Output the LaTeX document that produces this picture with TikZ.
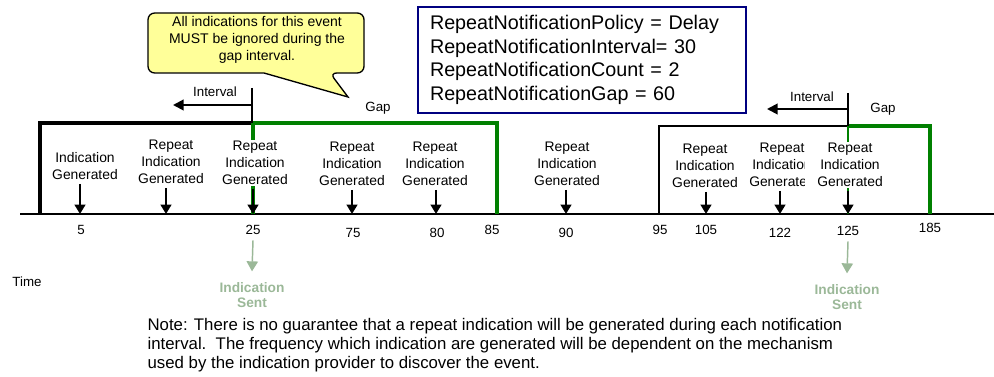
\documentclass[tikz,border=0pt]{standalone}
\usepackage{fontspec}
\setmainfont{Liberation Sans}
\usetikzlibrary{arrows.meta,positioning}

\definecolor{gapgreen}{RGB}{0,128,0}
\definecolor{boxnavy}{RGB}{0,0,128}
\definecolor{noteyellow}{RGB}{255,255,153}
\definecolor{sentgreen}{RGB}{155,184,152}

\tikzset{
  lbl/.style={align=center, font=\fontsize{10}{12.5}\selectfont, inner sep=1pt},
  genlbl/.style={lbl, fill=white, font=\fontsize{10.4}{12.6}\selectfont},
  genarrow/.style={-{Triangle[length=7pt,width=8pt]}, line width=1.5pt},
  ivarrow/.style={-{Triangle[length=8pt,width=8pt]}, line width=1.5pt},
  sentarrow/.style={-{Triangle[length=7.5pt,width=8.5pt]}, line width=1.1pt, draw=sentgreen},
  sentlbl/.style={lbl, text=sentgreen, font=\fontsize{10.3}{11.5}\selectfont\bfseries}
}

\begin{document}
\begin{tikzpicture}[x=0.75pt, y=-0.75pt]
\useasboundingbox (0,0) rectangle (994,377);

% Callout
\draw[fill=noteyellow, line width=1pt, rounded corners=5pt]
(148,13) -- (364,13) -- (364,73) -- (330,73) [sharp corners] -- (348,97)
-- (264,73) [rounded corners=5pt] -- (148,73) -- cycle;
\node[lbl, font=\fontsize{10.5}{12.8}\selectfont] (callout) at (257,40)
{All indications for this event\\MUST be ignored during the\\gap interval.};

% Policy box
\node[draw=boxnavy, line width=1.5pt, text width=228pt, inner xsep=9pt,
  minimum height=79.5pt, align=left, font=\fontsize{14.8}{17.6}\selectfont]
  (policy) at (582,60)
{RepeatNotificationPolicy = Delay\\RepeatNotificationInterval= 30\\
RepeatNotificationCount = 2\\RepeatNotificationGap = 60};

% Time line
\coordinate (tstart) at (20,214);
\coordinate (tend) at (994,214);
\draw[line width=1.5pt] (tstart) -- (tend);
\node[lbl] (time) at (27,282) {Time};

% First interval and gap
\draw[line width=2.6pt] (40,214) -- (40,123) -- (253,123);
\draw[gapgreen, line width=2.4pt] (253,123) -- (497,123) -- (497,214);
\draw[gapgreen, line width=2.4pt] (253,123) -- (253,214);
\draw[line width=1.5pt] (252,88) -- (252,123);
\draw[ivarrow] (252,105) -- (173,105);
\node[lbl] (iv1) at (215,92) {Interval};
\node[lbl] (gap1) at (378,108) {Gap};

% Second interval and gap
\draw[line width=1.5pt] (659,214) -- (659,126) -- (848,126);
\draw[gapgreen, line width=2.4pt] (848,126) -- (930,126) -- (930,214);
\draw[gapgreen, line width=2.2pt] (848,126) -- (848,214);
\draw[line width=1.5pt] (848,93) -- (848,126);
\draw[ivarrow] (848,109) -- (767,109);
\node[lbl] (iv2) at (812,97) {Interval};
\node[lbl] (gap2) at (883,109) {Gap};

% Ticks on the time line
\foreach \name/\x in {a/80, b/166, c/253, d/352, e/436, f/566, g/706, h/780, i/848}
  \coordinate (t\name) at (\x,214);

% Generated indications
\node[genlbl] (gena) at (85,166) {Indication\\Generated};
\node[genlbl] (genb) at (171,162) {Repeat\\Indication\\Generated};
\node[genlbl] (genc) at (255,163) {Repeat\\Indication\\Generated};
\node[genlbl] (gend) at (352,164) {Repeat\\Indication\\Generated};
\node[genlbl] (gene) at (435,164) {Repeat\\Indication\\Generated};
\node[genlbl] (genf) at (567,164) {Repeat\\Indication\\Generated};
\node[genlbl] (geng) at (705,166) {Repeat\\Indication\\Generated};
\begin{scope}
\clip (749,130) rectangle (804,196);
\node[genlbl] (genh) at (782,165) {Repeat\\Indication\\Generated};
\end{scope}
\node[genlbl] (geni) at (850,165) {Repeat\\Indication\\Generated};

\foreach \name in {a,b,c,d,e,f,g,h,i}
  \draw[genarrow] ([yshift=-2pt]gen\name.south -| t\name) -- (t\name);

% Tick labels
\node[lbl] (lba) at (81,230) {5};
\node[lbl] (lbc) at (253,230) {25};
\node[lbl] (lbd) at (353,233) {75};
\node[lbl] (lbe) at (437,233) {80};
\node[lbl] (lb85) at (492,230) {85};
\node[lbl] (lbf) at (566,233) {90};
\node[lbl] (lb95) at (660,230) {95};
\node[lbl] (lbg) at (706,230) {105};
\node[lbl] (lbh) at (780,233) {122};
\node[lbl] (lbi) at (848,231) {125};
\node[lbl] (lb185) at (930,228) {185};

% Indications sent
\node[sentlbl] (sentc) at (252,295) {Indication\\Sent};
\node[sentlbl] (senti) at (847,297) {Indication\\Sent};
\draw[sentarrow] ([yshift=-3pt]lbc.south) -- ([yshift=7pt]sentc.north);
\draw[sentarrow] ([yshift=-3pt]lbi.south) -- ([yshift=7pt]senti.north);

% Note
\node[lbl, anchor=west, align=left, font=\fontsize{12.6}{14.25}\selectfont]
  (note) at (146,345)
{Note: There is no guarantee that a repeat indication will be generated during each notification\\
interval.\ \ The frequency which indication are generated will be dependent on the mechanism\\
used by the indication provider to discover the event.};

\end{tikzpicture}
\end{document}
